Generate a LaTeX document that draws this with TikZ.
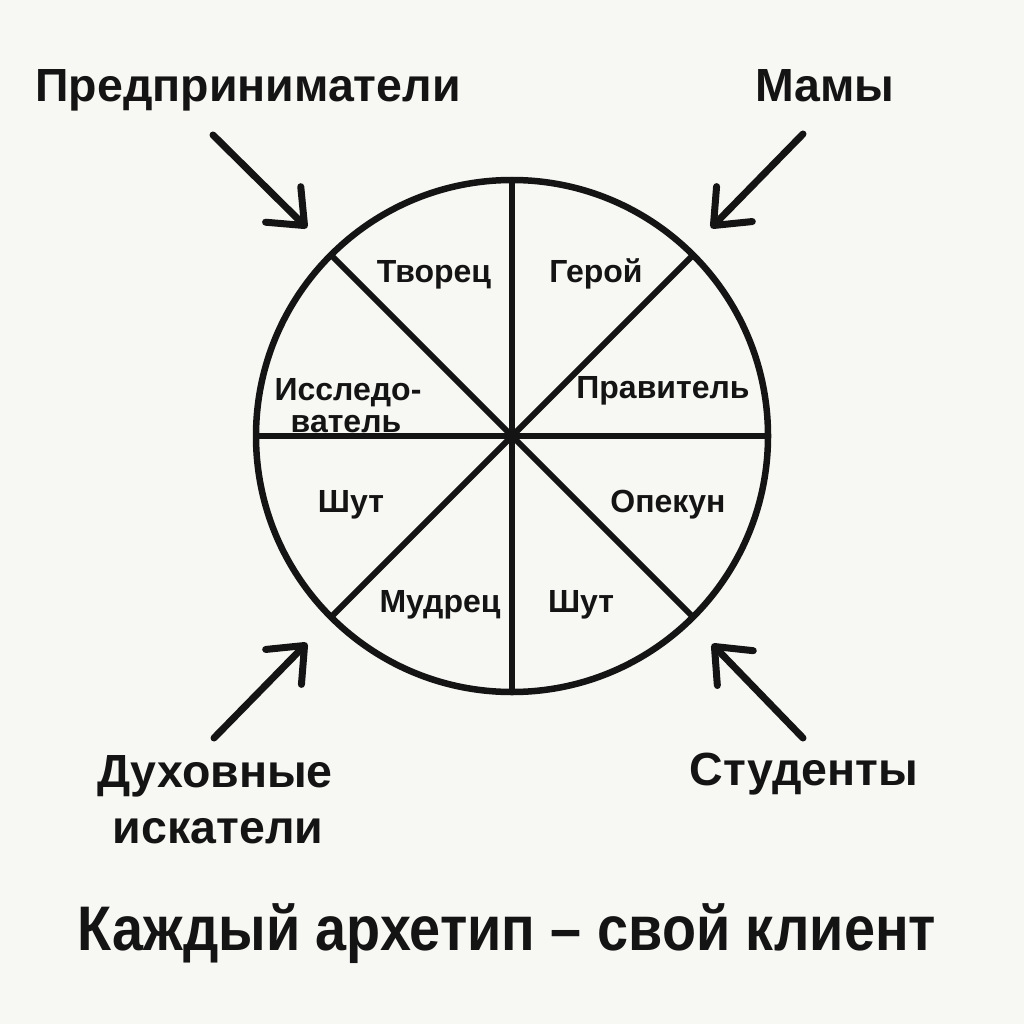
\documentclass[tikz,border=0pt]{standalone}
\usepackage{fontspec}
\setmainfont{Liberation Sans}
\usepackage{graphicx}
\usetikzlibrary{arrows.meta}
\definecolor{bg}{HTML}{F7F7F3}
\definecolor{ink}{HTML}{141414}
\tikzset{
  outer/.style={font=\fontsize{46.5}{56}\selectfont\bfseries, text=ink, inner sep=0pt, anchor=base},
  inner/.style={font=\fontsize{32}{38}\selectfont\bfseries, text=ink, inner sep=0pt, anchor=base},
  spoke/.style={draw=ink, line width=6pt},
  pointer/.style={draw=ink, line width=7pt, line cap=round,
    -{Straight Barb[length=30pt,width=50pt,round]}},
}
\begin{document}
\begin{tikzpicture}[x=1pt,y=-1pt]
\fill[bg] (0,0) rectangle (1024,1024);
\useasboundingbox (0,0) rectangle (1024,1024);
% wheel
\node[circle, draw=ink, line width=6.5pt, minimum size=512pt, inner sep=0pt, outer sep=0pt] (wheel) at (512,436) {};
\draw[spoke] (wheel.north) -- (wheel.south);
\draw[spoke] (wheel.west) -- (wheel.east);
\draw[spoke] (wheel.135) -- (wheel.-45);
\draw[spoke] (wheel.45) -- (wheel.-135);
% sector labels
\node[inner] (tvorec) at (434,282) {Творец};
\node[inner] (geroj) at (596,282) {Герой};
\node[inner] (issl1) at (348,400) {Исследо-};
\node[inner] (issl2) at (346,432) {ватель};
\node[inner] (pravit) at (663,398) {Правитель};
\node[inner] (shut1) at (351,512) {Шут};
\node[inner] (opekun) at (668,512) {Опекун};
\node[inner] (mudrec) at (440,612) {Мудрец};
\node[inner] (shut2) at (581,612) {Шут};
% outer labels
\node[outer] (pred) at (248,102) {Предприниматели};
\node[outer] (mamy) at (825,102) {Мамы};
\node[outer] (duh1) at (215,787) {Духовные};
\node[outer] (duh2) at (218,843) {искатели};
\node[outer] (stud) at (804,785) {Студенты};
\node[outer, font=\fontsize{63}{70}\selectfont\bfseries] (title) at (507,950) {\scalebox{0.885}[1]{Каждый архетип – свой клиент}};
% arrows
\coordinate (a1s) at (213,135); \coordinate (a1e) at (307,228);
\coordinate (a2s) at (803,134); \coordinate (a2e) at (711,228);
\coordinate (a3s) at (214,738); \coordinate (a3e) at (307,643);
\coordinate (a4s) at (803,738); \coordinate (a4e) at (712,644);
\draw[pointer] (a1s) -- (a1e);
\draw[pointer] (a2s) -- (a2e);
\draw[pointer] (a3s) -- (a3e);
\draw[pointer] (a4s) -- (a4e);
\end{tikzpicture}
\end{document}
